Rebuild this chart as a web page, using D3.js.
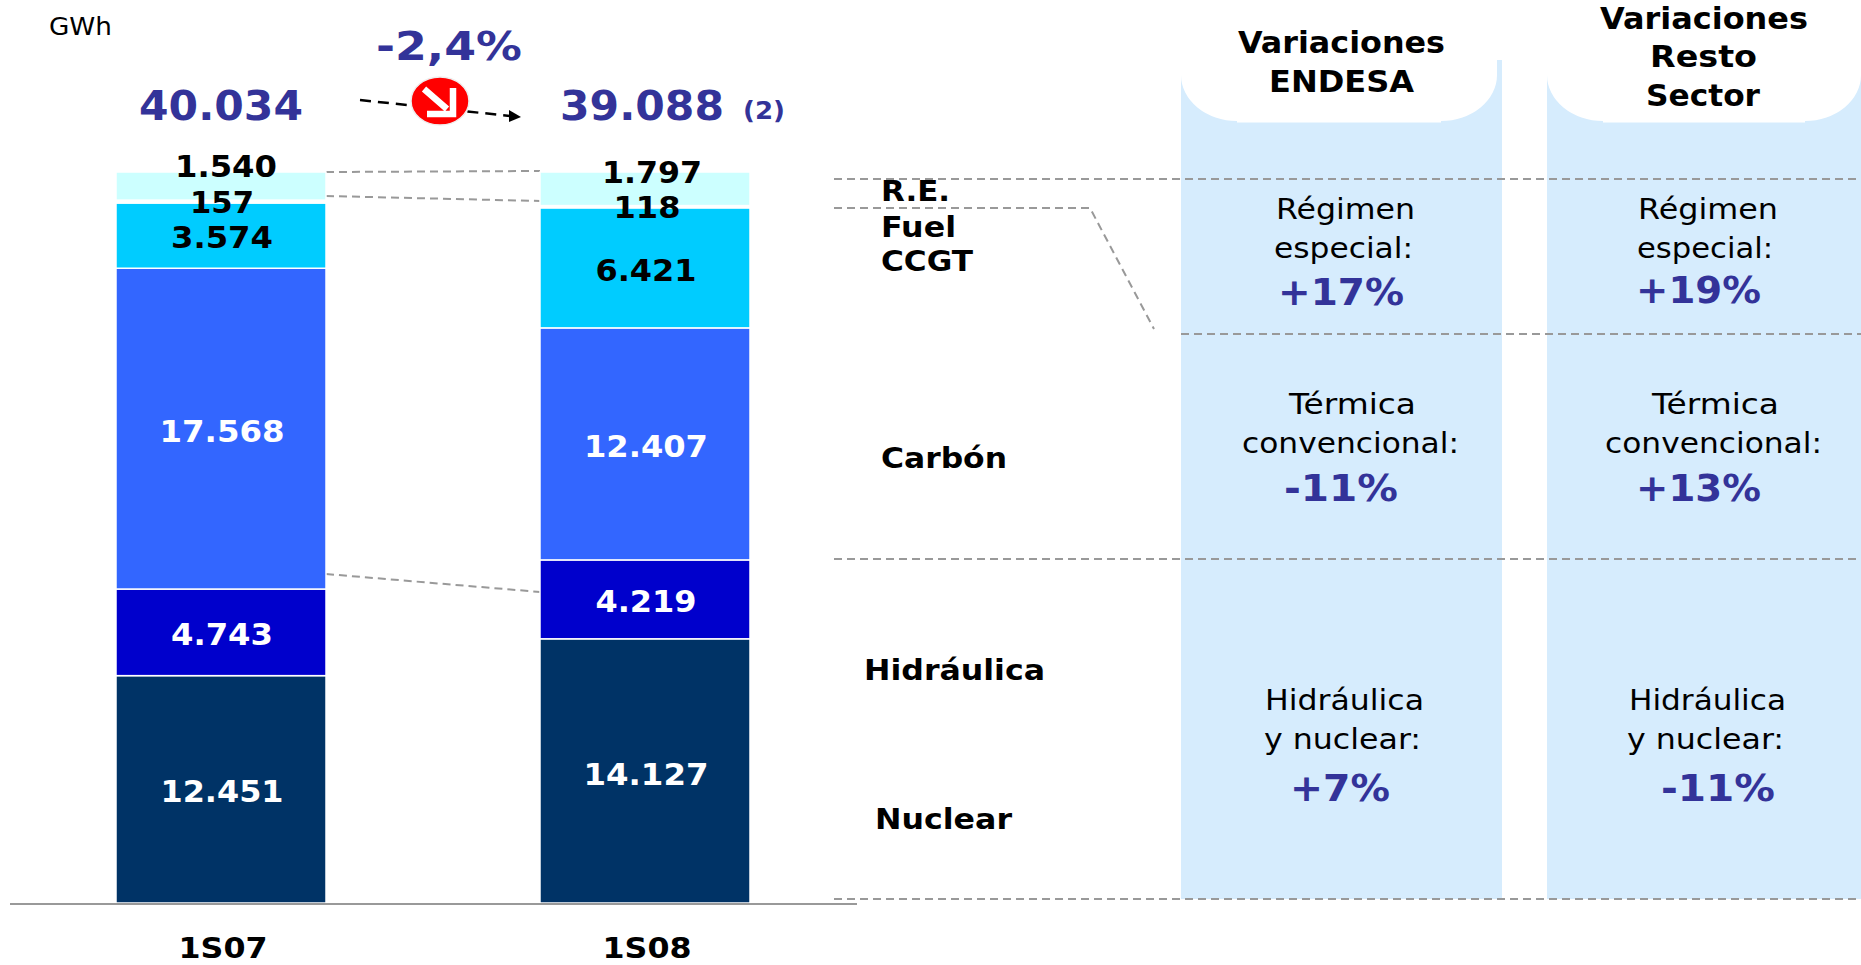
<!DOCTYPE html>
<html lang="en">
<head>
<meta charset="utf-8">
<title>Producción GWh 1S07 - 1S08</title>
<script src="https://d3js.org/d3.v7.min.js"></script>
<style>
  body { margin: 0; background: #fff; }
  svg { display: block; }
  text { font-family: "DejaVu Sans", Verdana, sans-serif; }
  .guide { fill: none; stroke: #999; stroke-width: 2; stroke-dasharray: 8 5; }
</style>
</head>
<body>
<div id="chart"></div>
<script>
var periods = ["1S07", "1S08"];
var seriesNames = ["Nuclear", "Hidráulica", "Carbón", "CCGT", "Fuel", "R.E."];
var nuclear = [12451, 14127];
var hidraulica = [4743, 4219];
var carbon = [17568, 12407];
var ccgt = [3574, 6421];
var fuel = [157, 118];
var re = [1540, 1797];
var seriesColors = ["#003366", "#0000cc", "#3366ff", "#00ccff", "#ffffff", "#ccffff"];
var labelColors = ["#fff", "#fff", "#fff", "#000", "#000", "#000"];
var valueLabels = [
  ["12.451", "14.127"], ["4.743", "4.219"], ["17.568", "12.407"],
  ["3.574", "6.421"], ["157", "118"], ["1.540", "1.797"]
];
var endesaPct = ["+17%", "-11%", "+7%"];
var restoPct = ["+19%", "+13%", "-11%"];

var width = 1861, height = 965;
var blue = "#333399";

var svg = d3.select("#chart").append("svg")
  .attr("width", width)
  .attr("height", height);

var rows = periods.map(function(p, i) {
  return { period: p, Nuclear: nuclear[i], "Hidráulica": hidraulica[i], "Carbón": carbon[i],
           CCGT: ccgt[i], Fuel: fuel[i], "R.E.": re[i] };
});

// both columns fill the same height, so the stack is normalised to 100%
var stacked = d3.stack().keys(seriesNames).offset(d3.stackOffsetExpand)(rows);

var x = d3.scaleBand().domain(periods).range([116, 750]).paddingInner(0.5047);
var y = d3.scaleLinear().domain([0, 1]).range([903, 172]);

// left, baseline, text, font size, target width (the original text is stretched)
function label(g, left, base, txt, size, w, color, weight) {
  return g.append("text")
    .attr("x", left)
    .attr("y", base)
    .attr("textLength", w)
    .attr("lengthAdjust", "spacingAndGlyphs")
    .style("font-size", size + "px")
    .style("font-weight", weight || "normal")
    .style("fill", color || "#000")
    .text(txt);
}

// right hand panels
var panels = svg.append("g");
[[1181, 1502, 1497, 56], [1547, 1861, 1861, 56]].forEach(function(p) {
  panels.append("rect")
    .attr("x", p[0]).attr("y", 60)
    .attr("width", p[1] - p[0]).attr("height", 839)
    .style("fill", "#d6ecfd");
  var r = p[3];
  panels.append("path")
    .attr("d", "M" + p[0] + ",60 L" + p[2] + ",60 L" + p[2] + ",75 A" + r + ",46 0 0 1 " + (p[2] - r) + ",121 L" +
      (p[2] - r) + ",122.5 L" + (p[0] + r) + ",122.5 L" + (p[0] + r) + ",121 A" + r + ",46 0 0 1 " + p[0] + ",75 Z")
    .style("fill", "#fff");
});

// dashed guides
var guides = svg.append("g");
var line = d3.line();
[
  [[834, 179], [1861, 179]],
  [[1181, 334], [1861, 334]],
  [[834, 559], [1861, 559]],
  [[834, 899], [1861, 899]],
  [[834, 208], [1090, 208], [1154, 329]],
  [[326, 172], [540, 171]],
  [[326, 196], [540, 201]],
  [[326, 574], [540, 592]]
].forEach(function(pts) {
  guides.append("path").attr("class", "guide").attr("d", line(pts));
});

// bars
var layers = svg.append("g").selectAll("g")
  .data(stacked)
  .enter().append("g")
  .style("fill", function(d, i) { return seriesColors[i]; });

layers.selectAll("rect")
  .data(function(d) { return d; })
  .enter().append("rect")
  .attr("x", function(d) { return x(d.data.period); })
  .attr("y", function(d) { return y(d[1]); })
  .attr("width", x.bandwidth())
  .attr("height", function(d) { return y(d[0]) - y(d[1]); })
  .style("stroke", "#fff")
  .style("stroke-width", 1.5);

// axis, kept a little high so the labels stay inside the page
var axis = svg.append("g")
  .attr("transform", "translate(2,903)")
  .call(d3.axisBottom(x).tickSize(0).tickPadding(34.5));
axis.select(".domain").remove();
axis.selectAll("text")
  .style("font-size", "29px")
  .style("font-weight", "bold")
  .style("fill", "#000")
  .attr("textLength", 89)
  .attr("lengthAdjust", "spacingAndGlyphs");
svg.append("line")
  .attr("x1", 10).attr("x2", 857)
  .attr("y1", 904).attr("y2", 904)
  .style("stroke", "#999")
  .style("stroke-width", 2);

// value labels, the thin top segments do not fit so their baselines are set by hand
var labelBase = [[802, 785], [645, 612], [442, 457], [248, 281], [213, 218], [177, 183]];
var labelWidth = [[123, 125], [102, 101], [125, 124], [102, 101], [64, 67], [102, 100]];
var labelShift = [[1, 1], [1, 1], [1, 1], [1, 1], [1, 2], [5, 7]];
valueLabels.forEach(function(vals, s) {
  vals.forEach(function(txt, i) {
    var w = labelWidth[s][i];
    var cx = x(periods[i]) + x.bandwidth() / 2 + labelShift[s][i];
    label(svg, cx - w / 2, labelBase[s][i], txt, 31, w, labelColors[s], "bold");
  });
});

// totals
label(svg, 49, 35, "GWh", 24, 63, "#000");
label(svg, 376, 60, "-2,4%", 39, 146, blue, "bold");
label(svg, 139, 120, "40.034", 41, 164, blue, "bold");
label(svg, 560, 120, "39.088", 41, 164, blue, "bold");
label(svg, 743, 119, "(2)", 25, 42, blue, "bold");

// trend arrow
svg.append("path")
  .attr("d", line([[360, 100], [510, 116]]))
  .style("stroke", "#000")
  .style("stroke-width", 2.5)
  .style("stroke-dasharray", "11 7");
svg.append("path")
  .attr("d", "M521,117 L509,110 L509,122 Z")
  .style("fill", "#000");
svg.append("ellipse")
  .attr("cx", 440).attr("cy", 101)
  .attr("rx", 29).attr("ry", 24)
  .style("fill", "#f00")
  .style("stroke", "#eee")
  .style("stroke-width", 1.5);
svg.append("path")
  .attr("d", "M424,89 L447,109 M453,88 L453,114 L427,114")
  .style("fill", "none")
  .style("stroke", "#fff")
  .style("stroke-width", 6.5);

// category names
var catNames = ["R.E.", "Fuel", "CCGT", "Carbón", "Hidráulica", "Nuclear"];
var catLeft = [881, 881, 881, 881, 864, 875];
var catBase = [201, 237, 271, 468, 680, 829];
var catWidth = [69, 75, 92, 126, 181, 137];
catNames.forEach(function(c, i) {
  label(svg, catLeft[i], catBase[i], c, 29, catWidth[i], "#000", "bold");
});

// panel headers
label(svg, 1238, 53, "Variaciones", 30, 207, "#000", "bold");
label(svg, 1269, 92, "ENDESA", 30, 145, "#000", "bold");
label(svg, 1600, 29, "Variaciones", 30, 208, "#000", "bold");
label(svg, 1650, 67, "Resto", 30, 107, "#000", "bold");
label(svg, 1646, 106, "Sector", 30, 114, "#000", "bold");

// panel texts
[
  [1276, 219, "Régimen", 139], [1274, 258, "especial:", 139],
  [1638, 219, "Régimen", 140], [1637, 258, "especial:", 136],
  [1289, 414, "Térmica", 127], [1242, 453, "convencional:", 217],
  [1652, 414, "Térmica", 127], [1605, 453, "convencional:", 217],
  [1265, 710, "Hidráulica", 159], [1264, 749, "y nuclear:", 157],
  [1629, 710, "Hidráulica", 157], [1627, 749, "y nuclear:", 157]
].forEach(function(t) {
  label(svg, t[0], t[1], t[2], 29, t[3], "#000");
});

var pctBase = [305, 501, 801];
var endesaLeft = [1278, 1284, 1290], endesaWidth = [126, 114, 100];
var restoBase = [303, 501, 801];
var restoLeft = [1636, 1636, 1661], restoWidth = [125, 125, 114];
endesaPct.forEach(function(p, i) {
  label(svg, endesaLeft[i], pctBase[i], p, 37, endesaWidth[i], blue, "bold");
});
restoPct.forEach(function(p, i) {
  label(svg, restoLeft[i], restoBase[i], p, 37, restoWidth[i], blue, "bold");
});
</script>
</body>
</html>
